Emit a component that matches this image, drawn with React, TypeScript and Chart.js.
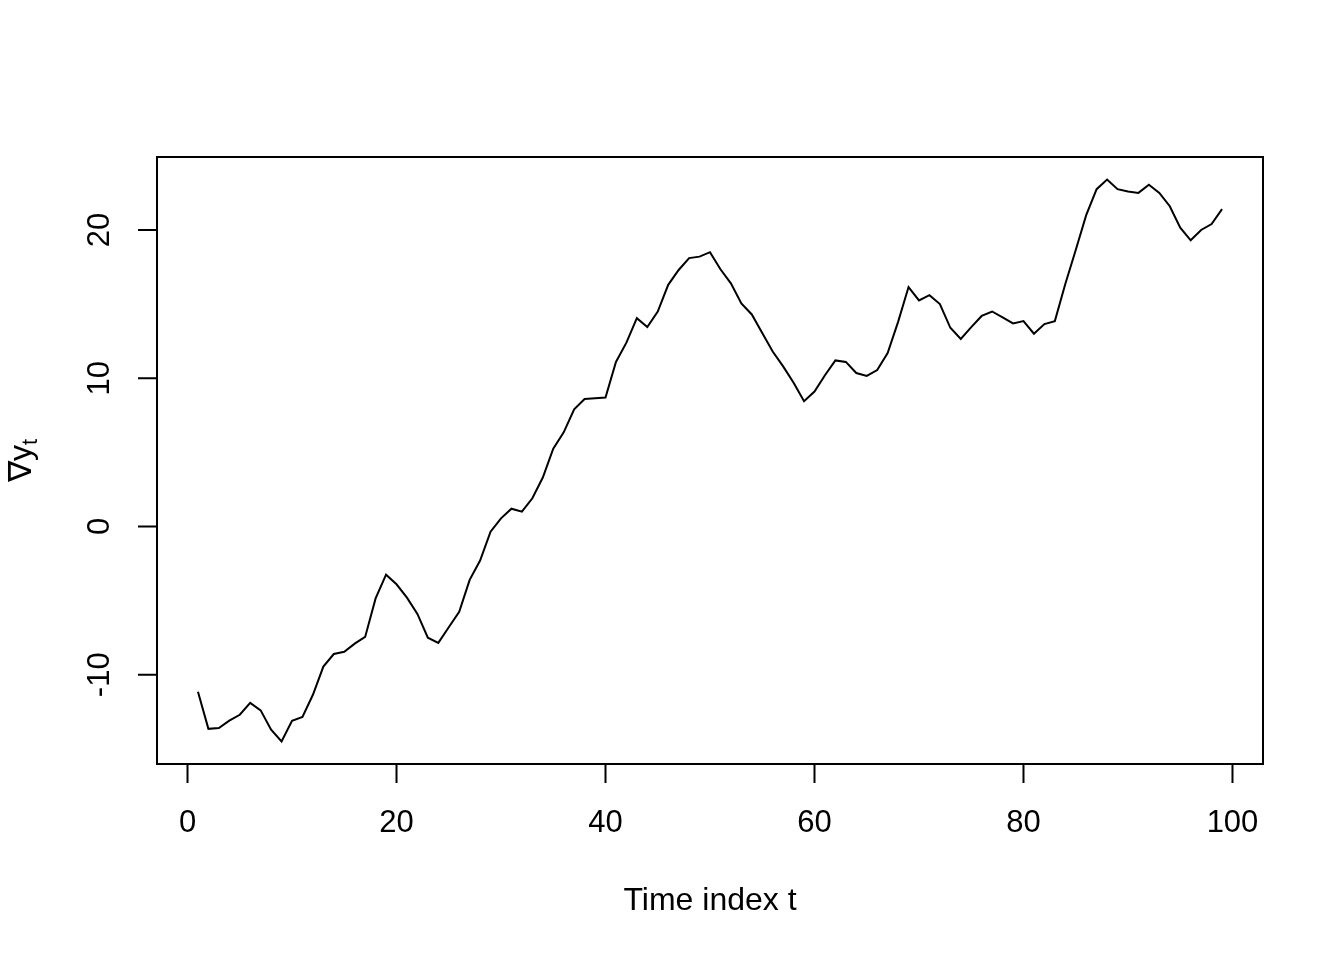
import React, { useEffect, useRef } from "react";
import { Chart, registerables } from "chart.js";

Chart.register(...registerables);

const timeIndex: number[] = Array.from({ length: 99 }, (_, i) => i + 1);
const diffY: number[] = [
  -11.15, -13.65, -13.6, -13.1, -12.7, -11.9, -12.4, -13.7, -14.5, -13.1,
  -12.85, -11.35, -9.45, -8.6, -8.45, -7.9, -7.45, -4.85, -3.25, -3.9,
  -4.8, -5.9, -7.5, -7.85, -6.8, -5.75, -3.6, -2.3, -0.35, 0.55,
  1.2, 1.0, 1.9, 3.3, 5.25, 6.35, 7.9, 8.6, 8.65, 8.7,
  11.1, 12.4, 14.05, 13.45, 14.5, 16.3, 17.3, 18.1, 18.2, 18.5,
  17.35, 16.4, 15.05, 14.3, 13.05, 11.8, 10.8, 9.7, 8.45, 9.1,
  10.2, 11.2, 11.1, 10.35, 10.15, 10.55, 11.7, 13.8, 16.15, 15.25,
  15.6, 15.0, 13.4, 12.65, 13.45, 14.2, 14.5, 14.1, 13.7, 13.85,
  13.0, 13.65, 13.85, 16.35, 18.65, 21.0, 22.75, 23.4, 22.75, 22.6,
  22.5, 23.05, 22.5, 21.6, 20.15, 19.3, 20.0, 20.4, 21.4,
];
const xTicks: number[] = [0, 20, 40, 60, 80, 100];
const yTicks: number[] = [-10, 0, 10, 20];
const xTitle = "Time index t";

const FONT = '"Liberation Sans", Arial, Helvetica, sans-serif';

const rAxesPlugin = {
  id: "rAxes",
  afterDraw(chart: any) {
    const ctx = chart.ctx as CanvasRenderingContext2D;
    const { left, right, top, bottom } = chart.chartArea;
    const xs = chart.scales.x;
    const ys = chart.scales.y;
    ctx.save();
    ctx.strokeStyle = "#000";
    ctx.fillStyle = "#000";
    ctx.lineWidth = 2;
    // box
    ctx.strokeRect(left, top, right - left, bottom - top);
    // x axis
    const tickLen = 19;
    const x0 = xs.getPixelForValue(xTicks[0]);
    const x1 = xs.getPixelForValue(xTicks[xTicks.length - 1]);
    ctx.beginPath();
    ctx.moveTo(x0, bottom);
    ctx.lineTo(x1, bottom);
    xTicks.forEach((t) => {
      const px = xs.getPixelForValue(t);
      ctx.moveTo(px, bottom);
      ctx.lineTo(px, bottom + tickLen);
    });
    // y axis
    const y0 = ys.getPixelForValue(yTicks[0]);
    const y1 = ys.getPixelForValue(yTicks[yTicks.length - 1]);
    ctx.moveTo(left, y0);
    ctx.lineTo(left, y1);
    yTicks.forEach((t) => {
      const py = ys.getPixelForValue(t);
      ctx.moveTo(left, py);
      ctx.lineTo(left - tickLen, py);
    });
    ctx.stroke();

    ctx.font = `31px ${FONT}`;
    ctx.textAlign = "center";
    ctx.textBaseline = "middle";
    xTicks.forEach((t) => {
      ctx.fillText(String(t), xs.getPixelForValue(t), bottom + 59);
    });
    yTicks.forEach((t) => {
      const py = ys.getPixelForValue(t);
      ctx.save();
      ctx.translate(left - 57, py);
      ctx.rotate(-Math.PI / 2);
      ctx.fillText(String(t), 0, 0);
      ctx.restore();
    });

    // x title
    ctx.font = `32px ${FONT}`;
    ctx.fillText(xTitle, (left + right) / 2, bottom + 137);

    // y title: ∇y with subscript t
    ctx.save();
    ctx.translate(21, (top + bottom) / 2);
    ctx.rotate(-Math.PI / 2);
    ctx.textAlign = "left";
    ctx.textBaseline = "alphabetic";
    ctx.font = `32px ${FONT}`;
    const main = "\u2207y";
    const mw = ctx.measureText(main).width;
    ctx.font = `22px ${FONT}`;
    const sw = ctx.measureText("t").width;
    const total = mw + sw;
    ctx.font = `32px ${FONT}`;
    ctx.fillText(main, -total / 2, 10);
    ctx.font = `22px ${FONT}`;
    ctx.fillText("t", -total / 2 + mw, 16);
    ctx.restore();

    ctx.restore();
  },
};

export default function App() {
  const ref = useRef<HTMLCanvasElement | null>(null);
  useEffect(() => {
    if (!ref.current) return;
    const chart = new Chart(ref.current, {
      type: "line",
      data: {
        datasets: [
          {
            data: timeIndex.map((t, i) => ({ x: t, y: diffY[i] })),
            borderColor: "#000",
            borderWidth: 2,
            pointRadius: 0,
            tension: 0,
            fill: false,
          },
        ],
      },
      options: {
        animation: false,
        responsive: false,
        devicePixelRatio: 1,
        layout: { padding: { left: 157, top: 157, right: 81, bottom: 196 } },
        plugins: { legend: { display: false }, tooltip: { enabled: false } },
        scales: {
          x: { type: "linear", display: false, min: -2.92, max: 102.92 },
          y: { type: "linear", display: false, min: -16.02, max: 24.92 },
        },
      },
      plugins: [rAxesPlugin],
    });
    return () => chart.destroy();
  }, []);
  return (
    <div style={{ position: "fixed", left: 0, top: 0, width: 1344, height: 960, background: "#fff" }}>
      <canvas ref={ref} width={1344} height={960} style={{ width: 1344, height: 960 }} />
    </div>
  );
}
